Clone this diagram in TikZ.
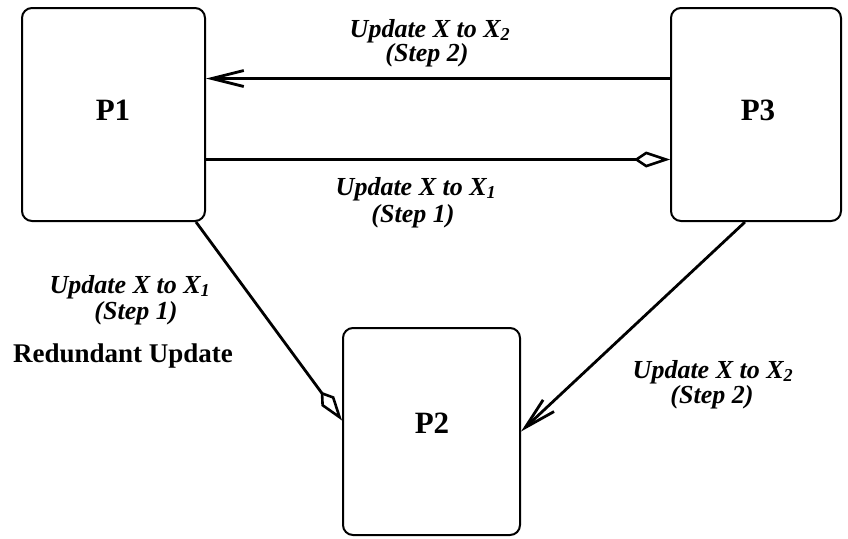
\documentclass[tikz,border=0pt]{standalone}
\usepackage{fontspec}
\setmainfont{Liberation Serif}
\usetikzlibrary{arrows.meta}
\tikzset{
  proc/.style={rectangle,rounded corners=10pt,draw=black,line width=2pt,inner sep=0pt},
  pn/.style={font=\fontsize{31}{33}\selectfont\bfseries,inner sep=0pt},
  upd/.style={line width=2.8pt,draw=black},
  opn/.style={upd,-{Straight Barb[length=32pt,width=16pt,line width=2.8pt]}},
  dia/.style={upd,-{Kite[open,length=36pt,width=16pt,inset=12pt,line width=2.6pt]}},
  ul/.style={font=\fontsize{26}{28}\selectfont\bfseries\itshape,inner sep=0pt},
  rl/.style={font=\fontsize{27}{29}\selectfont\bfseries,inner sep=0pt},
}
\newcommand{\upto}[1]{Update X to X\textsubscript{#1}}

\begin{document}
\begin{tikzpicture}[x=1pt,y=-1pt]
\useasboundingbox (0,0) rectangle (848,538);
% ---------------- the three processes
\node[proc,minimum width=183pt,minimum height=213pt] (p1) at (113.5,114.5) {};
\node[proc,minimum width=170pt,minimum height=213pt] (p3) at (756,114.5) {};
\node[proc,minimum width=177pt,minimum height=207pt] (p2) at (431.5,431.5) {};
\node[pn] (p1t) at (113,110) {P1};
\node[pn] (p3t) at (758,110) {P3};
\node[pn] (p2t) at (432,423) {P2};
% ---------------- messages between P1 and P3
\draw[opn] ([yshift=36pt]p3.west) -- ([yshift=36pt]p1.east);
\draw[dia] ([yshift=-45pt]p1.east) -- ([yshift=-45pt]p3.west);
\node[ul] (t2a) at (430,31) {\upto{2}};
\node[ul] (t2b) at (427,55) {(Step 2)};
\node[ul] (t1a) at (416,189) {\upto{1}};
\node[ul] (t1b) at (413,216) {(Step 1)};
% ---------------- messages to P2
\draw[dia] ([xshift=-10pt]p1.south east) -- ([yshift=11pt]p2.west);
\draw[opn] ([xshift=-11pt]p3.south) -- (p2.east);
\node[ul] (l1a) at (130,287) {\upto{1}};
\node[ul] (l1b) at (136,313) {(Step 1)};
\node[rl] (red) at (123,356) {Redundant Update};
\node[ul] (r2a) at (713,372) {\upto{2}};
\node[ul] (r2b) at (712,397) {(Step 2)};
\end{tikzpicture}
\end{document}
